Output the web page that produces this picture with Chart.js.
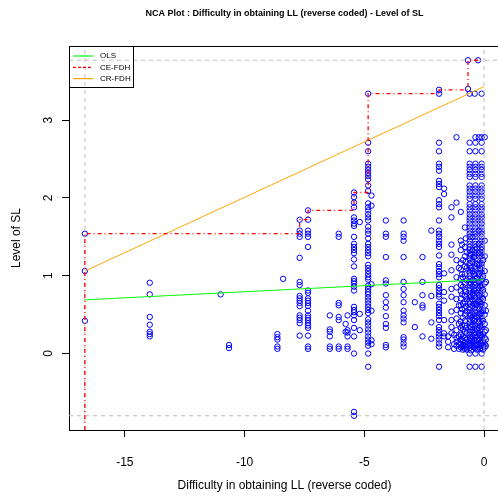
<!DOCTYPE html>
<html>
<head>
<meta charset="utf-8">
<script src="https://cdn.jsdelivr.net/npm/chart.js@4.4.0/dist/chart.umd.min.js"></script>
<style>
  html, body { margin: 0; padding: 0; background: #fff; overflow: hidden; width: 498px; height: 498px; }
  canvas { display: block; }
</style>
</head>
<body>
<canvas id="nca-chart" width="502" height="498"></canvas>
<script>
// Axis ranges and ticks
const xRange = [-17.333, 0.667];
const yRange = [-0.983, 3.953];
const xTicks = [-15, -10, -5, 0];
const yTicks = [0, 1, 2, 3];

// Scope of the data (dashed grey box)
const scopeX = [-16.67, 0];
const scopeY = [-0.8, 3.77];

// Rows shared by the three densest columns near zero
const denseRows = [2.71, 2.60, 2.44, 2.40, 2.36, 2.31, 2.27, 2.16, 2.12, 2.08, 2.03, 1.99, 1.92, 1.88,
  1.84, 1.79, 1.75, 1.71, 1.67, 1.62, 1.58, 1.54, 1.50, 1.45, 1.41, 1.37, 1.33, 1.29, 1.25, 1.21,
  1.16, 1.12, 1.08, 1.04, 1.00, 0.96, 0.92, 0.88, 0.84, 0.80, 0.76, 0.72, 0.68, 0.64, 0.60, 0.56,
  0.52, 0.48, 0.44, 0.40, 0.36, 0.32, 0.28, 0.24, 0.20, 0.16, 0.13, 0.10, 0.07, 0.00, -0.17];

// Observations, grouped by x value
const colX = [-16.67, -13.96, -11.0, -10.65, -8.63, -8.39, -7.70, -7.35, -6.44, -6.07, -5.78, -5.70,
  -5.43, -5.19, -4.84, -4.70, -4.10, -3.36, -2.89, -2.57, -2.20, -1.88, -1.67, -1.36, -1.15,
  -0.97, -0.88, -0.80, -0.72, -0.67, -0.60, -0.48, -0.39, -0.36, -0.30, -0.25, -0.22, -0.10, -0.04, 0.03];
const colY = [
  [1.54, 1.06, 0.42],
  [0.91, 0.76, 0.47, 0.37, 0.28, 0.25, 0.22],
  [0.76],
  [0.11, 0.07],
  [0.25, 0.21, 0.18, 0.09, 0.06],
  [0.96],
  [1.72, 1.58, 1.54, 1.50, 1.23, 0.92, 0.88, 0.74, 0.71, 0.68, 0.65, 0.61, 0.49, 0.46, 0.43, 0.39, 0.23],
  [1.84, 1.72, 1.58, 1.54, 1.50, 1.37, 0.81, 0.78, 0.71, 0.68, 0.65, 0.61, 0.55, 0.49, 0.46, 0.43,
   0.39, 0.36, 0.33, 0.23, 0.09, 0.06],
  [0.49, 0.31, 0.28, 0.22, 0.09, 0.06],
  [1.54, 1.50, 0.65, 0.62, 0.47, 0.43, 0.09, 0.06],
  [0.38, 0.28],
  [0.49, 0.30, 0.27, 0.22, 0.09, 0.06],
  [2.07, 2.01, 1.94, 1.88, 1.75, 1.71, 1.67, 1.64, 1.50, 1.41, 1.37, 1.33, 1.29, 1.21, 1.12, 0.96,
   0.93, 0.90, 0.86, 0.81, 0.60, 0.56, 0.53, 0.49, 0.43, 0.33, 0.22, 0.00, -0.75, -0.80],
  [1.69, 0.51, 0.30],
  [3.34, 2.71, 2.60, 2.44, 2.40, 2.36, 2.32, 2.28, 2.24, 2.16, 2.09, 1.93, 1.88, 1.84, 1.79, 1.75,
   1.71, 1.63, 1.58, 1.54, 1.48, 1.41, 1.37, 1.33, 1.29, 1.25, 1.14, 1.10, 1.06, 1.02, 0.98, 0.95,
   0.87, 0.83, 0.79, 0.76, 0.72, 0.68, 0.64, 0.60, 0.56, 0.52, 0.44, 0.40, 0.36, 0.31, 0.27, 0.22,
   0.18, 0.14, 0.10, 0.00, -0.17],
  [2.03, 1.90, 0.89, 0.55, 0.17, 0.12],
  [1.71, 1.54, 1.50, 1.24, 0.94, 0.90, 0.75, 0.66, 0.59, 0.48, 0.38, 0.33, 0.11, 0.08],
  [1.71, 1.54, 1.50, 1.45, 1.24, 0.92, 0.83, 0.75, 0.66, 0.55, 0.49, 0.45, 0.40, 0.21, 0.18, 0.13, 0.09],
  [0.66, 0.34],
  [1.24, 0.92, 0.75, 0.62, 0.59, 0.22],
  [1.58, 0.74, 0.40, 0.19],
  [3.39, 3.34, 2.71, 2.60, 2.44, 2.40, 2.35, 2.22, 2.18, 2.14, 1.97, 1.92, 1.88, 1.71, 1.58, 1.54,
   1.50, 1.45, 1.41, 1.37, 1.26, 1.15, 1.11, 1.06, 1.02, 0.98, 0.88, 0.84, 0.80, 0.76, 0.73, 0.64,
   0.60, 0.56, 0.52, 0.48, 0.43, 0.34, 0.30, 0.26, 0.22, 0.18, 0.13, 0.09, -0.17],
  [2.12, 2.05, 1.03, 0.79, 0.68, 0.43, 0.26, 0.22],
  [1.88, 1.75, 1.40, 1.27, 1.07, 0.83, 0.73, 0.54, 0.43, 0.34, 0.26],
  [2.78, 1.94, 1.20, 0.98, 0.85, 0.70, 0.56, 0.45, 0.30, 0.20, 0.15, 0.10],
  [1.82, 1.45, 1.33, 1.16, 1.08, 0.96, 0.88, 0.80, 0.71, 0.62, 0.52, 0.41, 0.33, 0.24, 0.18, 0.12, 0.08],
  [1.20, 0.98, 0.86, 0.64, 0.46, 0.31, 0.22, 0.16, 0.11, 0.05],
  [1.62, 1.37, 1.25, 1.12, 1.02, 0.90, 0.82, 0.74, 0.66, 0.58, 0.50, 0.42, 0.36, 0.28, 0.20, 0.14, 0.10, 0.06],
  [1.30, 1.10, 0.94, 0.70, 0.54, 0.26, 0.18, 0.12, 0.05],
  [3.77, 3.40],
  denseRows.concat([3.34]),
  [1.50, 1.33, 1.18, 1.06, 0.94, 0.86, 0.77, 0.69, 0.61, 0.53, 0.45, 0.37, 0.30, 0.22, 0.15, 0.09],
  [3.34],
  denseRows.concat([2.78]),
  [1.35, 1.15, 0.97, 0.78, 0.63, 0.47, 0.31, 0.22, 0.17, 0.11, 0.05],
  [3.77],
  [2.78, 1.58, 1.41, 1.29, 1.14, 1.02, 0.92, 0.84, 0.75, 0.67, 0.58, 0.49, 0.41, 0.33, 0.26, 0.18, 0.12, 0.08],
  denseRows.concat([3.34, 2.78]),
  [1.20, 0.99, 0.82, 0.70, 0.55, 0.42, 0.25, 0.16, 0.10, 0.05],
  [2.78, 1.45, 1.25, 1.06, 0.90, 0.76, 0.62, 0.50, 0.38, 0.28, 0.20, 0.12, 0.08]
];

// Extra observations filling the crowded block just left of zero
const blobX = [-1.50, -1.25, -1.05, -0.92, -0.76, -0.55, -0.42, -0.16, 0.08];
const blobY = [
  [0.22, 0.15, 0.08],
  [0.24, 0.12, 0.06],
  [1.10, 0.62, 0.38, 0.22, 0.12, 0.06],
  [1.40, 1.02, 0.76, 0.57, 0.36, 0.19, 0.09],
  [1.48, 1.18, 0.79, 0.61, 0.33, 0.08],
  [1.27, 1.10, 0.90, 0.73, 0.49, 0.34, 0.19, 0.11, 0.04],
  [1.24, 1.02, 0.81, 0.64, 0.42, 0.26, 0.17, 0.08],
  [1.31, 1.09, 0.87, 0.66, 0.51, 0.35, 0.24, 0.14, 0.06],
  [0.92, 0.55, 0.30, 0.18, 0.10]
];

// Ceiling / regression lines
const olsX = [-16.67, 0];
const olsY = [0.69, 0.95];
const crX = [-16.67, 0];
const crY = [1.06, 3.43];
const ceX = [-16.67, -16.67, -7.70, -7.70, -7.35, -7.35, -5.43, -5.43, -4.84, -4.84, -1.88, -1.88, -0.67, -0.67, -0.25];
const ceY = [yRange[0], 1.54, 1.54, 1.72, 1.72, 1.84, 1.84, 2.07, 2.07, 3.34, 3.34, 3.39, 3.39, 3.77, 3.77];

const legendItems = [
  { label: 'OLS', color: '#00FF00', dash: [] },
  { label: 'CE-FDH', color: '#FF0000', dash: [3, 2] },
  { label: 'CR-FDH', color: '#FFA500', dash: [] }
];

const FONT = '"Liberation Sans", Arial, sans-serif';

function pairs(xs, ys) {
  return xs.map((x, i) => ({ x, y: ys[i] }));
}

const points = [];
colX.forEach((x, i) => colY[i].forEach(y => points.push({ x, y })));
blobX.forEach((x, i) => blobY[i].forEach(y => points.push({ x, y })));

function lineSet(data, color, dash, width, order) {
  return {
    data,
    showLine: true,
    borderColor: color,
    borderWidth: width,
    borderDash: dash,
    pointRadius: 0,
    fill: false,
    tension: 0,
    order
  };
}

// Title, axis titles, y tick labels, box and legend drawn on top
const decorations = {
  id: 'decorations',
  afterDraw(chart) {
    const ctx = chart.ctx;
    const area = chart.chartArea;
    const yScale = chart.scales.y;
    const cx = (area.left + area.right) / 2;
    ctx.save();

    // plot box (top and right sides)
    ctx.strokeStyle = '#000';
    ctx.lineWidth = 1;
    ctx.beginPath();
    ctx.moveTo(area.left, area.top + 0.5);
    ctx.lineTo(area.right, area.top + 0.5);
    ctx.moveTo(area.right - 0.5, area.top);
    ctx.lineTo(area.right - 0.5, area.bottom);
    ctx.stroke();

    ctx.fillStyle = '#000';
    ctx.textAlign = 'center';
    ctx.textBaseline = 'middle';

    ctx.font = 'bold 9px ' + FONT;
    ctx.fillText('NCA Plot : Difficulty in obtaining LL (reverse coded) - Level of SL', cx, 13.5);

    ctx.font = '12px ' + FONT;
    ctx.fillText('Difficulty in obtaining LL (reverse coded)', cx, 486);

    ctx.save();
    ctx.translate(17, (area.top + area.bottom) / 2);
    ctx.rotate(-Math.PI / 2);
    ctx.fillText('Level of SL', 0, 0);
    ctx.restore();

    yTicks.forEach(v => {
      ctx.save();
      ctx.translate(49, yScale.getPixelForValue(v));
      ctx.rotate(-Math.PI / 2);
      ctx.fillText(String(v), 0, 0);
      ctx.restore();
    });

    // legend
    const lx = area.left + 0.5, ly = area.top + 0.5;
    ctx.strokeStyle = '#000';
    ctx.strokeRect(lx, ly, 64, 41);
    ctx.font = '8px ' + FONT;
    ctx.textAlign = 'left';
    ctx.lineWidth = 1.2;
    legendItems.forEach((item, i) => {
      const y = 56 + i * 11.3;
      ctx.strokeStyle = item.color;
      ctx.setLineDash(item.dash);
      ctx.beginPath();
      ctx.moveTo(73, y);
      ctx.lineTo(93, y);
      ctx.stroke();
      ctx.setLineDash([]);
      ctx.fillStyle = '#000';
      ctx.fillText(item.label, 100, y);
    });

    ctx.restore();
  }
};

new Chart(document.getElementById('nca-chart'), {
  type: 'scatter',
  data: {
    datasets: [
      lineSet(pairs(ceX, ceY), '#FF0000', [4, 3, 1, 3], 1.3, 0),
      lineSet(pairs(crX, crY), '#FFA500', [], 1, 1),
      lineSet(pairs(olsX, olsY), '#00FF00', [], 1, 2),
      lineSet([{ x: scopeX[0], y: yRange[0] }, { x: scopeX[0], y: yRange[1] }], '#BEBEBE', [4, 4], 1, 3),
      lineSet([{ x: scopeX[1], y: yRange[0] }, { x: scopeX[1], y: yRange[1] }], '#BEBEBE', [4, 4], 1, 3),
      lineSet([{ x: xRange[0], y: scopeY[0] }, { x: xRange[1], y: scopeY[0] }], '#BEBEBE', [4, 4], 1, 3),
      lineSet([{ x: xRange[0], y: scopeY[1] }, { x: xRange[1], y: scopeY[1] }], '#BEBEBE', [4, 4], 1, 3),
      {
        data: points,
        pointRadius: 2.7,
        pointBorderWidth: 1,
        pointBorderColor: '#0000FF',
        pointBackgroundColor: 'rgba(0,0,0,0)',
        showLine: false,
        order: 10
      }
    ]
  },
  options: {
    responsive: false,
    animation: false,
    devicePixelRatio: 1,
    layout: { autoPadding: false, padding: { top: 46, right: 2, left: 0, bottom: 0 } },
    plugins: { legend: { display: false }, tooltip: { enabled: false }, title: { display: false } },
    scales: {
      x: {
        type: 'linear',
        min: xRange[0],
        max: xRange[1],
        afterFit: s => { s.height = 68; s.paddingLeft = 0; s.paddingRight = 0; },
        afterBuildTicks: s => { s.ticks = xTicks.map(v => ({ value: v })); },
        grid: { drawOnChartArea: false, drawTicks: true, tickLength: 7, color: '#000' },
        border: { display: true, color: '#000' },
        ticks: { color: '#000', padding: 18, maxRotation: 0, autoSkip: false, font: { family: FONT, size: 12 } }
      },
      y: {
        type: 'linear',
        min: yRange[0],
        max: yRange[1],
        afterFit: s => { s.width = 69; s.paddingTop = 0; s.paddingBottom = 0; },
        afterBuildTicks: s => { s.ticks = yTicks.map(v => ({ value: v })); },
        grid: { drawOnChartArea: false, drawTicks: true, tickLength: 7, color: '#000' },
        border: { display: true, color: '#000' },
        ticks: { display: false }
      }
    }
  },
  plugins: [decorations]
});
</script>
</body>
</html>
